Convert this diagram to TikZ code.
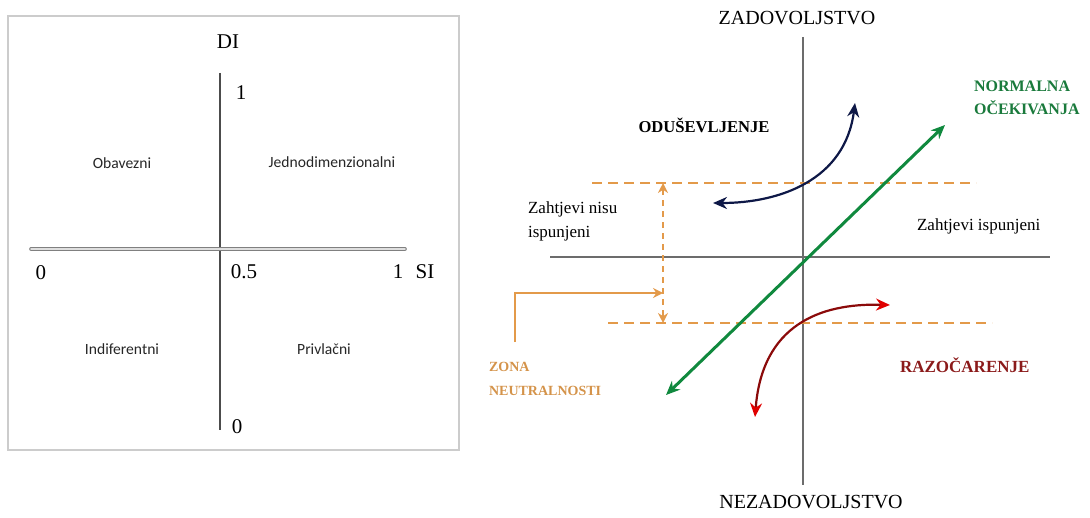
\documentclass[tikz,border=0pt]{standalone}
\usepackage{fontspec}
\setmainfont{Liberation Serif}
\newfontfamily\quadfont{Carlito}
\usetikzlibrary{arrows.meta,positioning}
\definecolor{navyln}{HTML}{0E1847}
\definecolor{greenln}{HTML}{10893E}
\definecolor{greentx}{HTML}{1A7A3C}
\definecolor{redln}{HTML}{8B0A0A}
\definecolor{redtip}{HTML}{E00000}
\definecolor{redtx}{HTML}{8B1A1A}
\definecolor{orangeln}{HTML}{E39A4A}
\definecolor{orangetx}{HTML}{D4934A}

\begin{document}
\begin{tikzpicture}[x=0.5pt,y=-0.5pt,
    axis/.style={draw=gray!85!black, line width=1pt},
    zoneline/.style={draw=orangeln, line width=1.2pt, dash pattern=on 5pt off 3pt},
    quad/.style={font=\quadfont\fontsize{7.8}{9}\selectfont, text=black!85},
    tick/.style={font=\fontsize{10.5}{12}\selectfont},
    caps/.style={font=\fontsize{10}{12}\selectfont},
    note/.style={font=\fontsize{8.5}{12}\selectfont, align=left, anchor=west},
    boldlbl/.style={font=\bfseries\fontsize{8.3}{11.5}\selectfont, align=left},
    ]
\useasboundingbox (0,0) rectangle (1090,518);

\draw[gray!40, line width=0.8pt] (8,16) rectangle (459,450);
\coordinate (ltop) at (220,73);
\coordinate (lbot) at (220,430);
\coordinate (lleft) at (31,249);
\coordinate (lright) at (405,249);
\draw[gray!60!black, line width=0.8pt] (ltop) -- (lbot);
\draw[gray, line width=0.5pt, double=gray!25, double distance=0.8pt, line cap=round] (lleft) -- (lright);
\node[tick] (di) at (228,42) {DI};
\node[tick] (dione) at (241,93) {1};
\node[tick] (dizero) at (237,427) {0};
\node[tick] (sizero) at (41,273) {0};
\node[tick] (sihalf) at (244,272) {0.5};
\node[tick] (sione) at (398,272) {1};
\node[tick] (si) at (425,272) {SI};
\node[quad] (obavezni) at (122,163) {Obavezni};
\node[quad] (jedno) at (332,162) {Jednodimenzionalni};
\node[quad] (indif) at (122,349) {Indiferentni};
\node[quad] (privl) at (324,349) {Privlačni};

\coordinate (vtop) at (803,37);
\coordinate (vbot) at (803,485);
\coordinate (hleft) at (550,257);
\coordinate (hright) at (1050,257);
\draw[axis] (vtop) -- (vbot);
\draw[axis] (hleft) -- (hright);
\node[caps] (zad) at (797,18) {ZADOVOLJSTVO};
\node[caps] (nezad) at (811,502) {NEZADOVOLJSTVO};

\coordinate (up1) at (592,183);
\coordinate (up2) at (976,183);
\coordinate (lo1) at (608,323);
\coordinate (lo2) at (992,323);
\draw[zoneline] (up1) -- (up2);
\draw[zoneline] (lo1) -- (lo2);
\coordinate (za) at (663,183);
\coordinate (zb) at (663,323);
\draw[orangeln, line width=1pt, dash pattern=on 3pt off 2.5pt,
    {Stealth[length=5pt,width=5pt]}-{Stealth[length=5pt,width=5pt]}] (za) -- (zb);

\node[note] (nisu) at (521,221) {Zahtjevi nisu\\ispunjeni};
\node[note] (ispunj) at (910,226) {Zahtjevi ispunjeni};

\node[boldlbl, text=orangetx, anchor=west, font=\bfseries\fontsize{7}{12}\selectfont] (zona) at (482,379) {ZONA\\NEUTRALNOSTI};
\coordinate (zfoot) at (515,342);
\coordinate (zknee) at (515,293);
\coordinate (zhit) at (663,293);
\draw[orangeln, line width=1pt, -{Stealth[length=5pt,width=5pt]}] (zfoot) -- (zknee) -- (zhit);

\coordinate (gs) at (666,395);
\coordinate (ge) at (945,125);
\draw[greenln, line width=1.5pt, {Stealth[length=7pt,width=6pt]}-{Stealth[length=7pt,width=6pt]}] (gs) -- (ge);
\node[boldlbl, text=greentx, anchor=west, font=\bfseries\fontsize{8}{11.5}\selectfont] (normal) at (967,98) {NORMALNA\\OČEKIVANJA};

\coordinate (ns) at (713,203);
\coordinate (ne) at (855,103);
\draw[navyln, line width=1.1pt, {Stealth[length=7pt,width=6pt]}-{Stealth[length=7pt,width=6pt]}]
    (ns) .. controls (780,203) and (845,180) .. (ne);
\node[boldlbl] (odus) at (704,125) {ODUŠEVLJENJE};

\coordinate (rs) at (755,417);
\coordinate (re) at (890,305);
\draw[redln, line width=1.1pt, {Stealth[length=7pt,width=6pt,color=redtip]}-{Stealth[length=7pt,width=6pt,color=redtip]}]
    (rs) .. controls (762,325) and (820,303) .. (re);
\node[boldlbl, text=redtx, anchor=west, font=\bfseries\fontsize{8.5}{11}\selectfont] (razoc) at (893,365) {RAZOČARENJE};
\end{tikzpicture}
\end{document}
